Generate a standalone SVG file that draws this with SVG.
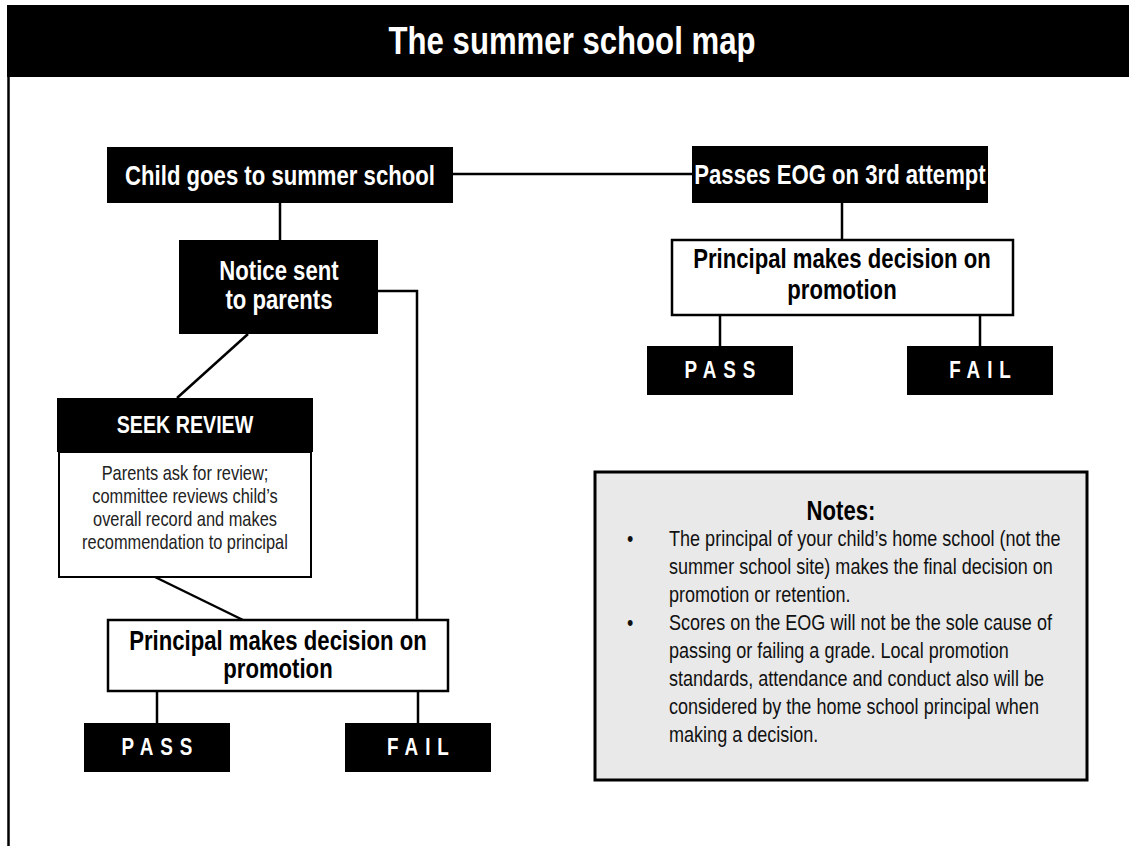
<svg xmlns="http://www.w3.org/2000/svg" width="1129" height="846" viewBox="0 0 1129 846">
<style>
.blk{fill:#000}
.wbox{fill:#fff;stroke:#000;stroke-width:2.5}
.lbl{font-family:"Liberation Sans",Arial,sans-serif;font-weight:bold;font-size:27px;text-anchor:middle}
.wt{fill:#fff}
.bt{fill:#000}
.pf{font-family:"Liberation Sans",Arial,sans-serif;font-weight:bold;font-size:23px;fill:#fff;text-anchor:middle;letter-spacing:8.5px}
.body{font-family:"Liberation Sans",Arial,sans-serif;font-size:20px;fill:#222;text-anchor:middle}
.note{font-family:"Liberation Sans",Arial,sans-serif;font-size:22px;fill:#111}
.conn{stroke:#000;stroke-width:2.5;fill:none}
</style>
<rect width="1129" height="846" fill="#fff"/>
<g id="header">
<rect x="7" y="5" width="1122" height="72" class="blk"/>
<g transform="scale(0.82 1)"><text x="697.6" y="54" class="lbl wt" style="font-size:38px">The summer school map</text></g>
<line x1="8.5" y1="77" x2="8.5" y2="846" stroke="#000" stroke-width="2.5"/>
</g>
<g id="connectors">
<line x1="453" y1="174" x2="692" y2="174" class="conn"/>
<line x1="280" y1="203" x2="280" y2="240" class="conn"/>
<line x1="842" y1="203" x2="842" y2="240" class="conn"/>
<polyline points="378,291 417,291 417,620" class="conn"/>
<line x1="248" y1="334" x2="177" y2="398" class="conn"/>
<line x1="155" y1="577" x2="243" y2="620" class="conn"/>
<line x1="720" y1="315" x2="720" y2="346" class="conn"/>
<line x1="980" y1="315" x2="980" y2="346" class="conn"/>
<line x1="157" y1="691" x2="157" y2="723" class="conn"/>
<line x1="418" y1="691" x2="418" y2="723" class="conn"/>
</g>
<g id="child">
<rect x="107" y="147" width="346" height="56" class="blk"/>
<g transform="scale(0.82 1)"><text x="341.5" y="185" class="lbl wt">Child goes to summer school</text></g>
</g>
<g id="passes">
<rect x="692" y="146" width="296" height="57" class="blk"/>
<g transform="scale(0.82 1)"><text x="1024.4" y="184" class="lbl wt">Passes EOG on 3rd attempt</text></g>
</g>
<g id="notice">
<rect x="179" y="240" width="199" height="94" class="blk"/>
<g transform="scale(0.82 1)">
<text x="340.2" y="280" class="lbl wt">Notice sent</text>
<text x="340.2" y="309" class="lbl wt">to parents</text>
</g>
</g>
<g id="principal-right">
<rect x="672" y="240" width="341" height="75" class="wbox"/>
<g transform="scale(0.82 1)">
<text x="1026.8" y="268" class="lbl bt">Principal makes decision on</text>
<text x="1026.8" y="299" class="lbl bt">promotion</text>
</g>
</g>
<g id="pass-right">
<rect x="647" y="346" width="146" height="49" class="blk"/>
<g transform="scale(0.82 1)"><text x="882.3" y="378" class="pf">PASS</text></g>
</g>
<g id="fail-right">
<rect x="907" y="346" width="146" height="49" class="blk"/>
<g transform="scale(0.82 1)"><text x="1199.4" y="378" class="pf">FAIL</text></g>
</g>
<g id="seek-review">
<rect x="59" y="452" width="252" height="125" class="wbox" style="stroke-width:2"/>
<rect x="57" y="398" width="256" height="54" class="blk"/>
<g transform="scale(0.82 1)">
<text x="225.6" y="433" class="lbl wt" style="font-size:24px">SEEK REVIEW</text>
<text x="225.6" y="480" class="body">Parents ask for review;</text>
<text x="225.6" y="503" class="body">committee reviews child’s</text>
<text x="225.6" y="526" class="body">overall record and makes</text>
<text x="225.6" y="549" class="body">recommendation to principal</text>
</g>
</g>
<g id="principal-left">
<rect x="108" y="620" width="340" height="71" class="wbox"/>
<g transform="scale(0.82 1)">
<text x="339" y="650" class="lbl bt">Principal makes decision on</text>
<text x="339" y="678" class="lbl bt">promotion</text>
</g>
</g>
<g id="pass-left">
<rect x="84" y="723" width="146" height="49" class="blk"/>
<g transform="scale(0.82 1)"><text x="195.7" y="755" class="pf">PASS</text></g>
</g>
<g id="fail-left">
<rect x="345" y="723" width="146" height="49" class="blk"/>
<g transform="scale(0.82 1)"><text x="514" y="755" class="pf">FAIL</text></g>
</g>
<g id="notes">
<rect x="595" y="472" width="492" height="308" fill="#e9e9e9" stroke="#000" stroke-width="3"/>
<g transform="scale(0.82 1)">
<text x="1025.6" y="520" class="lbl bt">Notes:</text>
<text x="764.6" y="546" class="note">•</text>
<text x="815.9" y="546" class="note">The principal of your child’s home school (not the</text>
<text x="815.9" y="574" class="note">summer school site) makes the final decision on</text>
<text x="815.9" y="602" class="note">promotion or retention.</text>
<text x="764.6" y="630" class="note">•</text>
<text x="815.9" y="630" class="note">Scores on the EOG will not be the sole cause of</text>
<text x="815.9" y="658" class="note">passing or failing a grade. Local promotion</text>
<text x="815.9" y="686" class="note">standards, attendance and conduct also will be</text>
<text x="815.9" y="714" class="note">considered by the home school principal when</text>
<text x="815.9" y="742" class="note">making a decision.</text>
</g>
</g>
</svg>
